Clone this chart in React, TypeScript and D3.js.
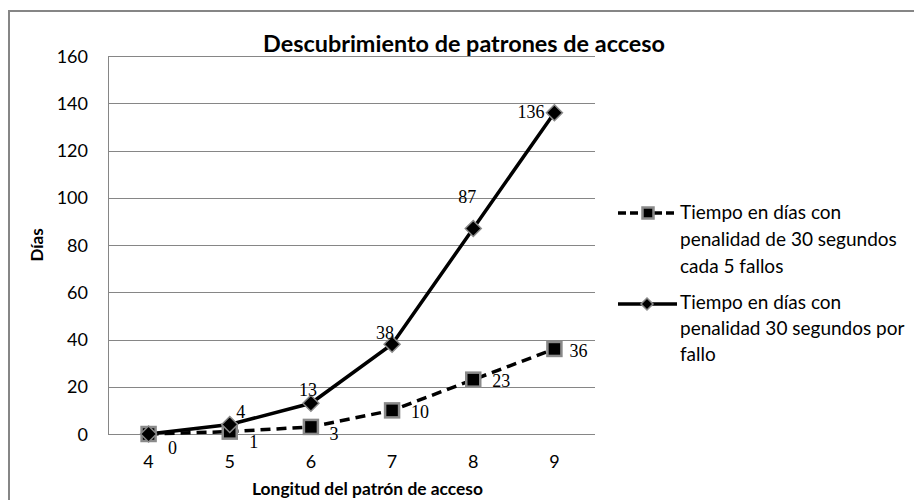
import React from "react";
import * as d3 from "d3";

const categories = ["4", "5", "6", "7", "8", "9"];
const seriesCada5 = [0, 1, 3, 10, 23, 36];
const seriesPorFallo = [0, 4, 13, 38, 87, 136];
const yTicks = [0, 20, 40, 60, 80, 100, 120, 140, 160];
const legendLabels = [
  ["Tiempo en días con", "penalidad de 30 segundos", "cada 5 fallos"],
  ["Tiempo en días con", "penalidad 30 segundos por", "fallo"],
];
const title = "Descubrimiento de patrones de acceso";
const xTitle = "Longitud del patrón de acceso";
const yTitle = "Días";

// label offsets [dx, baseline dy] (style, not data)
const offCada5 = [
  [24, 20],
  [24, 16],
  [23, 13],
  [28, 8],
  [28, 7],
  [24, 8],
];
const offPorFallo = [
  [0, 0],
  [11, -7],
  [-3, -7],
  [-7, -5],
  [-6, -25],
  [-10, 5],
];

export default function App() {
  const W = 914,
    H = 500;
  const left = 108,
    right = 595,
    top = 56,
    bottom = 434;
  const x = d3.scaleBand().domain(categories).range([left, right]);
  const cx = (c: string) => (x(c) as number) + x.bandwidth() / 2;
  const y = d3.scaleLinear().domain([0, 160]).range([bottom, top]);
  const line = d3
    .line<number>()
    .x((_, i) => cx(categories[i]))
    .y((d) => y(d));
  const font = "Lato, 'Open Sans', sans-serif";
  const serif = "'Liberation Serif', 'DejaVu Serif', serif";
  const grid = "#868686";
  const mk = "#8a8a8a";

  const square = (px: number, py: number, s = 14) => (
    <rect x={px - s / 2} y={py - s / 2} width={s} height={s} fill="#000" stroke={mk} strokeWidth={2.5} />
  );
  const diamond = (px: number, py: number, r = 8) => (
    <path
      d={`M${px},${py - r}L${px + r},${py}L${px},${py + r}L${px - r},${py}Z`}
      fill="#000"
      stroke={mk}
      strokeWidth={1.5}
    />
  );

  return (
    <div style={{ position: "absolute", left: 0, top: 0 }}>
      <svg width={W} height={H} style={{ display: "block", background: "#fff" }}>
        <rect x={9} y={11} width={W + 10} height={H + 10} fill="#fff" stroke={grid} strokeWidth={2} />
        <text
          x={464}
          y={52}
          textAnchor="middle"
          fontFamily={font}
          fontWeight="bold"
          fontSize={22}
          textLength={402}
          lengthAdjust="spacingAndGlyphs"
          fill="#000"
        >
          {title}
        </text>
        {yTicks.map((t) => (
          <g key={t}>
            <line x1={left} x2={right} y1={Math.round(y(t)) + 0.5} y2={Math.round(y(t)) + 0.5} stroke={grid} strokeWidth={1} />
            <text x={88} y={y(t) + 6.5} textAnchor="end" fontFamily={font} fontSize={18} fill="#000">
              {t}
            </text>
          </g>
        ))}
        <line x1={left + 0.5} x2={left + 0.5} y1={top} y2={bottom} stroke={grid} strokeWidth={1} />
        {categories.map((c) => (
          <text key={c} x={cx(c)} y={468} textAnchor="middle" fontFamily={font} fontSize={18} fill="#000">
            {c}
          </text>
        ))}
        <text
          x={367.5}
          y={495}
          textAnchor="middle"
          fontFamily={font}
          fontWeight="bold"
          fontSize={17}
          textLength={231}
          lengthAdjust="spacingAndGlyphs"
          fill="#000"
        >
          {xTitle}
        </text>
        <text
          transform={`translate(43,245) rotate(-90)`}
          textAnchor="middle"
          fontFamily={font}
          fontWeight="bold"
          fontSize={17}
          fill="#000"
        >
          {yTitle}
        </text>
        <path d={line(seriesCada5) || ""} fill="none" stroke="#000" strokeWidth={3.5} strokeDasharray="10,6" />
        <path d={line(seriesPorFallo) || ""} fill="none" stroke="#000" strokeWidth={3.5} />
        {seriesCada5.map((v, i) => (
          <g key={"a" + i}>{square(cx(categories[i]), y(v))}</g>
        ))}
        {seriesPorFallo.map((v, i) => (
          <g key={"b" + i}>{diamond(cx(categories[i]), y(v))}</g>
        ))}
        {seriesCada5.map((v, i) => (
          <text
            key={"la" + i}
            x={cx(categories[i]) + offCada5[i][0]}
            y={y(v) + offCada5[i][1]}
            textAnchor="middle"
            fontFamily={serif}
            fontSize={18}
            fill="#000"
          >
            {v}
          </text>
        ))}
        {seriesPorFallo.map((v, i) =>
          i === 0 ? null : (
            <text
              key={"lb" + i}
              x={cx(categories[i]) + offPorFallo[i][0]}
              y={y(v) + offPorFallo[i][1]}
              textAnchor={i === 5 ? "end" : "middle"}
              fontFamily={serif}
              fontSize={18}
              fill="#000"
            >
              {v}
            </text>
          )
        )}
        {/* legend */}
        <g>
          <line x1={618} x2={677} y1={213} y2={213} stroke="#000" strokeWidth={3.5} strokeDasharray="8,4" />
          {square(648, 213, 11)}
          {legendLabels[0].map((s, i) => (
            <text key={s} x={680} y={219 + i * 27} fontFamily={font} fontSize={19} fill="#000">
              {s}
            </text>
          ))}
          <line x1={618} x2={677} y1={304} y2={304} stroke="#000" strokeWidth={3.5} />
          {diamond(647, 304, 6)}
          {legendLabels[1].map((s, i) => (
            <text key={s} x={680} y={309 + i * 26} fontFamily={font} fontSize={19} fill="#000">
              {s}
            </text>
          ))}
        </g>
      </svg>
    </div>
  );
}
